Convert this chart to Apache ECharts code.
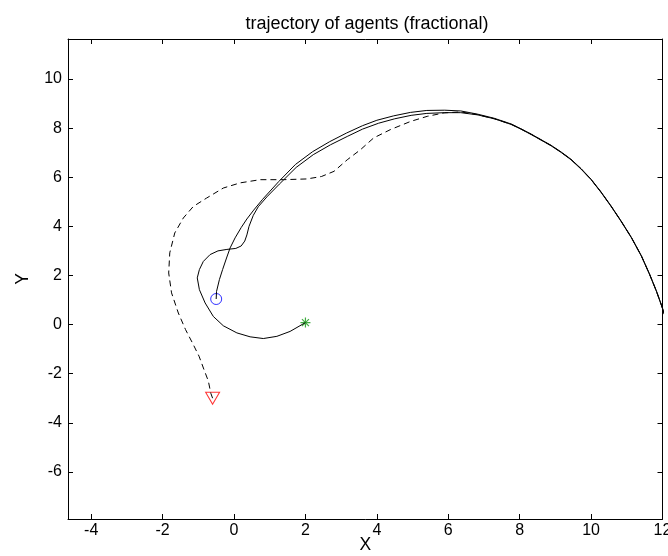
<!DOCTYPE html>
<html>
<head>
<meta charset="utf-8">
<script src="https://cdn.jsdelivr.net/npm/echarts@6/dist/echarts.min.js"></script>
<style>html,body{margin:0;padding:0;background:#fff}#c{width:668px;height:556px}</style>
</head>
<body>
<div id="c"></div>
<script>
// Tick labels
const xTicks = [-4, -2, 0, 2, 4, 6, 8, 10, 12];
const yTicks = [-6, -4, -2, 0, 2, 4, 6, 8, 10];

// Agent 1 (starts at green star), solid
const agent1X = [2.0, 1.57, 1.2, 0.82, 0.45, 0.08, -0.3, -0.58, -0.81, -0.97, -1.03, -0.97, -0.86, -0.67, -0.45, -0.2, 0.05, 0.2, 0.3, 0.36, 0.42, 0.54, 0.68, 0.92, 1.27, 1.74, 2.22, 2.7, 3.17, 3.6, 4.05, 4.5, 4.96, 5.4, 5.9, 6.35, 6.82, 7.29, 7.76, 8.03, 8.32, 8.6, 8.88, 9.16, 9.44, 9.72, 10.0, 10.28, 10.56, 10.84, 11.13, 11.41, 11.64, 11.83, 11.97, 12.06];
const agent1Y = [0.08, -0.28, -0.48, -0.57, -0.5, -0.34, -0.05, 0.33, 0.88, 1.42, 1.9, 2.24, 2.57, 2.85, 3.0, 3.06, 3.1, 3.2, 3.4, 3.65, 4.0, 4.45, 4.8, 5.2, 5.72, 6.4, 6.92, 7.32, 7.66, 7.96, 8.2, 8.38, 8.52, 8.6, 8.63, 8.63, 8.54, 8.38, 8.15, 7.96, 7.74, 7.51, 7.28, 7.01, 6.71, 6.33, 5.9, 5.38, 4.81, 4.2, 3.53, 2.78, 2.03, 1.35, 0.78, 0.38];

// Agent 2 (starts at blue circle), solid
const agent2X = [-0.5, -0.49, -0.41, -0.32, -0.21, -0.11, 0.03, 0.2, 0.36, 0.55, 0.8, 1.25, 1.72, 2.2, 2.68, 3.15, 3.6, 4.0, 4.47, 4.94, 5.4, 5.9, 6.35, 6.82, 7.29, 7.76, 8.03, 8.32, 8.6, 8.88, 9.16, 9.44, 9.72, 10.0, 10.28, 10.56, 10.84, 11.13, 11.41, 11.64, 11.83, 11.97, 12.08];
const agent2Y = [1.04, 1.35, 1.83, 2.24, 2.71, 3.12, 3.53, 3.95, 4.3, 4.66, 5.1, 5.82, 6.52, 7.04, 7.45, 7.8, 8.1, 8.32, 8.5, 8.64, 8.72, 8.73, 8.7, 8.57, 8.4, 8.17, 7.98, 7.76, 7.53, 7.3, 7.03, 6.73, 6.35, 5.92, 5.4, 4.83, 4.22, 3.55, 2.8, 2.05, 1.37, 0.8, 0.32];

// Agent 3 (starts at red triangle), dashed
const agent3X = [-0.6, -0.65, -0.72, -0.84, -0.98, -1.14, -1.36, -1.56, -1.75, -1.83, -1.8, -1.66, -1.42, -1.14, -0.77, -0.3, 0.17, 0.73, 1.38, 2.04, 2.45, 2.8, 3.17, 3.54, 3.91, 4.38, 4.94, 5.41, 5.88, 6.35, 6.82, 7.29, 7.76, 8.03, 8.32, 8.6, 8.88, 9.16, 9.44, 9.72, 10.0, 10.28, 10.56, 10.84, 11.13, 11.41, 11.64, 11.83, 11.97, 12.07];
const agent3Y = [-3.0, -2.8, -2.3, -1.84, -1.29, -0.82, -0.2, 0.47, 1.29, 2.1, 2.92, 3.73, 4.34, 4.81, 5.15, 5.56, 5.77, 5.9, 5.9, 5.93, 6.03, 6.24, 6.71, 7.12, 7.6, 7.94, 8.27, 8.48, 8.62, 8.66, 8.55, 8.38, 8.16, 7.97, 7.75, 7.52, 7.29, 7.02, 6.72, 6.34, 5.91, 5.39, 4.82, 4.21, 3.54, 2.79, 2.04, 1.36, 0.79, 0.35];

// Start points
const starPoint = [2.0, 0.08];
const circlePoint = [-0.5, 1.04];
const trianglePoint = [-0.6, -3.0];

const zip = (xs, ys) => xs.map((x, i) => [x, ys[i]]);
const FONT = 'Liberation Sans, Arial, sans-serif';

const chart = echarts.init(document.getElementById('c'), null, {renderer: 'canvas'});

const baseX = {
  type: 'value', min: -4.65, max: 12,
  axisLine: {show: true, onZero: false, lineStyle: {color: '#000', width: 1}},
  splitLine: {show: false},
  axisTick: {show: true, inside: true, length: 5, customValues: xTicks, lineStyle: {color: '#000'}},
};
const baseY = {
  type: 'value', min: -7.92, max: 11.63,
  axisLine: {show: true, onZero: false, lineStyle: {color: '#000', width: 1}},
  splitLine: {show: false},
  axisTick: {show: true, inside: true, length: 5, customValues: yTicks, lineStyle: {color: '#000'}},
};

chart.setOption({
  animation: false,
  backgroundColor: '#fff',
  title: {
    text: 'trajectory of agents (fractional)', left: 362, top: 10, textAlign: 'center',
    textStyle: {fontFamily: FONT, fontSize: 18, fontWeight: 'normal', color: '#000'}
  },
  grid: {left: 68, top: 39, width: 594.5, height: 480, containLabel: false, outerBoundsMode: 'none'},
  xAxis: [
    Object.assign({}, baseX, {
      position: 'bottom', name: 'X', nameLocation: 'middle', nameGap: 26, nameMoveOverlap: false,
      nameTextStyle: {fontFamily: FONT, fontSize: 17.5, color: '#000', verticalAlign: 'middle', align: 'center'},
      axisLabel: {show: true, customValues: xTicks, margin: 4, fontFamily: FONT, fontSize: 16, color: '#000'}
    }),
    Object.assign({}, baseX, {position: 'top', axisLabel: {show: false}})
  ],
  yAxis: [
    Object.assign({}, baseY, {
      position: 'left', name: 'Y', nameLocation: 'middle', nameGap: 45, nameRotate: 90, nameMoveOverlap: false,
      nameTextStyle: {fontFamily: FONT, fontSize: 17.5, color: '#000', verticalAlign: 'middle', align: 'center'},
      axisLabel: {show: true, customValues: yTicks, margin: 6, fontFamily: FONT, fontSize: 16, color: '#000'}
    }),
    Object.assign({}, baseY, {position: 'right', axisLabel: {show: false}})
  ],
  series: [
    {type: 'line', data: zip(agent1X, agent1Y), showSymbol: false, symbol: 'none', clip: true,
     lineStyle: {color: '#000', width: 1}},
    {type: 'line', data: zip(agent2X, agent2Y), showSymbol: false, symbol: 'none', clip: true,
     lineStyle: {color: '#000', width: 1}},
    {type: 'line', data: zip(agent3X, agent3Y), showSymbol: false, symbol: 'none', clip: true,
     lineStyle: {color: '#000', width: 1, type: [6, 4]}},
    {type: 'scatter', data: [starPoint], symbol: 'path://M5,0L5,10M0,5L10,5M1.5,1.5L8.5,8.5M1.5,8.5L8.5,1.5', symbolSize: 10,
     itemStyle: {color: 'rgba(0,0,0,0)', borderColor: '#119911', borderWidth: 1.2}},
    {type: 'scatter', data: [circlePoint], symbol: 'circle', symbolSize: 11,
     itemStyle: {color: 'rgba(0,0,0,0)', borderColor: '#0000ff', borderWidth: 1}},
    {type: 'scatter', data: [trianglePoint], symbol: 'triangle', symbolRotate: 180, symbolSize: [14, 12],
     itemStyle: {color: 'rgba(0,0,0,0)', borderColor: '#ff0000', borderWidth: 1}}
  ]
});
</script>
</body>
</html>
